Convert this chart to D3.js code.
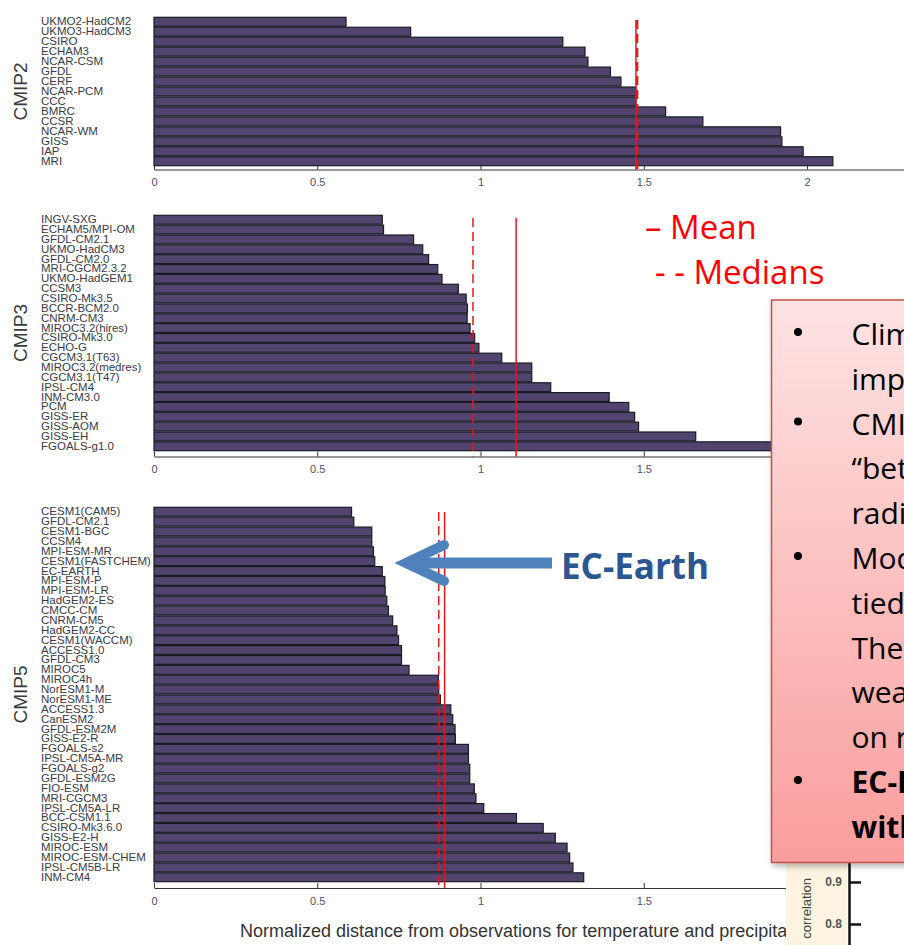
<!DOCTYPE html>
<html>
<head>
<meta charset="utf-8">
<script src="https://cdn.jsdelivr.net/npm/d3@7"></script>
<style>
    body { margin: 0; background: #fff; }
    svg { display: block; }
</style>
</head>
<body>
<div id="chart"></div>
<script>
// values (normalized distance from observations)
const cmip2Models = ["UKMO2-HadCM2", "UKMO3-HadCM3", "CSIRO", "ECHAM3", "NCAR-CSM", "GFDL", "CERF",
    "NCAR-PCM", "CCC", "BMRC", "CCSR", "NCAR-WM", "GISS", "IAP", "MRI"];
const cmip2Values = [0.588, 0.786, 1.252, 1.320, 1.329, 1.398, 1.430,
    1.476, 1.476, 1.567, 1.681, 1.919, 1.923, 1.988, 2.079];

const cmip3Models = ["INGV-SXG", "ECHAM5/MPI-OM", "GFDL-CM2.1", "UKMO-HadCM3", "GFDL-CM2.0", "MRI-CGCM2.3.2",
    "UKMO-HadGEM1", "CCSM3", "CSIRO-Mk3.5", "BCCR-BCM2.0", "CNRM-CM3", "MIROC3.2(hires)", "CSIRO-Mk3.0",
    "ECHO-G", "CGCM3.1(T63)", "MIROC3.2(medres)", "CGCM3.1(T47)", "IPSL-CM4", "INM-CM3.0", "PCM",
    "GISS-ER", "GISS-AOM", "GISS-EH", "FGOALS-g1.0"];
const cmip3Values = [0.699, 0.703, 0.795, 0.823, 0.841, 0.869, 0.882, 0.932, 0.956, 0.960, 0.959, 0.968,
    0.982, 0.995, 1.065, 1.157, 1.157, 1.215, 1.394, 1.454, 1.472, 1.484, 1.659, 1.98];

const cmip5Models = ["CESM1(CAM5)", "GFDL-CM2.1", "CESM1-BGC", "CCSM4", "MPI-ESM-MR", "CESM1(FASTCHEM)",
    "EC-EARTH", "MPI-ESM-P", "MPI-ESM-LR", "HadGEM2-ES", "CMCC-CM", "CNRM-CM5", "HadGEM2-CC",
    "CESM1(WACCM)", "ACCESS1.0", "GFDL-CM3", "MIROC5", "MIROC4h", "NorESM1-M", "NorESM1-ME", "ACCESS1.3",
    "CanESM2", "GFDL-ESM2M", "GISS-E2-R", "FGOALS-s2", "IPSL-CM5A-MR", "FGOALS-g2", "GFDL-ESM2G",
    "FIO-ESM", "MRI-CGCM3", "IPSL-CM5A-LR", "BCC-CSM1.1", "CSIRO-Mk3.6.0", "GISS-E2-H", "MIROC-ESM",
    "MIROC-ESM-CHEM", "IPSL-CM5B-LR", "INM-CM4"];
const cmip5Values = [0.605, 0.612, 0.667, 0.667, 0.672, 0.676, 0.699, 0.707, 0.708, 0.713, 0.718, 0.731,
    0.744, 0.749, 0.758, 0.758, 0.781, 0.871, 0.872, 0.877, 0.909, 0.915, 0.922, 0.923, 0.963, 0.963,
    0.967, 0.967, 0.981, 0.986, 1.010, 1.110, 1.192, 1.229, 1.265, 1.273, 1.283, 1.316];

const panelNames = ["CMIP2", "CMIP3", "CMIP5"];
const meanValues = [1.476, 1.109, 0.890];
const medianValues = [1.480, 0.977, 0.872];
const xTicks = [0, 0.5, 1, 1.5, 2];

// small correlation axis peeking in at the bottom right
const corrTicks = [0.9, 0.8];

// the note box (cut off by the right edge of the slide)
const noteLines = ["Climate models have", "improved over time", "CMIP5 models are", "“better” than before",
    "radiation and clouds", "Models are closely", "tied to each other.", "Their spread is", "weak",
    "on regional scales", "EC-Earth performs well", "within CMIP5"];
const noteBullets = [0, 2, 5, 10];
const noteBold = [10, 11];

class BarPanel {
    constructor(svg, name, models, values, mean, median, box) {
        this.svg = svg;
        this.name = name;
        this.models = models;
        this.values = values;
        this.mean = mean;
        this.median = median;
        this.box = box;
        this.initVis();
    }

    initVis() {
        let vis = this;

        vis.x = d3.scaleLinear()
            .domain([0, 2.3])
            .range([154, 905]);

        vis.y = d3.scaleBand()
            .domain(vis.models)
            .range([vis.box.top, vis.box.bottom])
            .paddingInner(0.1)
            .paddingOuter(0.03);

        vis.g = vis.svg.append("g").attr("class", "panel");

        // panel name, rotated
        vis.g.append("text")
            .attr("transform", "translate(27," + ((vis.box.top + vis.box.bottom) / 2) + ") rotate(-90)")
            .attr("text-anchor", "middle")
            .style("font-family", "'Liberation Sans', Arial, sans-serif")
            .style("font-size", "19px")
            .style("fill", "#3a3a3a")
            .text(vis.name);

        vis.updateVis();
    }

    updateVis() {
        let vis = this;

        vis.g.selectAll(".bar")
            .data(vis.models)
            .enter().append("rect")
            .attr("class", "bar")
            .attr("x", vis.x(0))
            .attr("y", d => vis.y(d))
            .attr("width", (d, i) => vis.x(vis.values[i]) - vis.x(0))
            .attr("height", vis.y.bandwidth())
            .attr("fill", "#51446f")
            .attr("stroke", "#1d1a24")
            .attr("stroke-width", 1.2);

        vis.g.selectAll(".model-label")
            .data(vis.models)
            .enter().append("text")
            .attr("class", "model-label")
            .attr("x", 41)
            .attr("y", d => vis.y(d) + vis.y.bandwidth() / 2 + 3.5)
            .style("font-family", "'Liberation Sans', Arial, sans-serif")
            .style("font-size", "11.5px")
            .style("fill", "#3a3a48")
            .text(d => d);

        // axis: ticks point up to the bars
        let axis = d3.axisBottom(vis.x)
            .tickValues(xTicks)
            .tickFormat(d => d)
            .tickSizeInner(-5)
            .tickSizeOuter(0)
            .tickPadding(9);

        let ax = vis.g.append("g")
            .attr("class", "x-axis")
            .attr("transform", "translate(0," + vis.box.axisY + ")")
            .call(axis);
        ax.select(".domain").attr("stroke", "#333");
        ax.selectAll(".tick line").attr("stroke", "#333");
        ax.selectAll("text")
            .style("font-family", "'Liberation Sans', Arial, sans-serif")
            .style("font-size", "11px")
            .style("fill", "#4b5170");

        // median (dashed) and mean (solid)
        vis.g.append("line")
            .attr("x1", vis.x(vis.median)).attr("x2", vis.x(vis.median))
            .attr("y1", vis.box.lineTop).attr("y2", vis.box.axisY)
            .attr("stroke", "#e8141b")
            .attr("stroke-width", vis.box.thick ? 2.2 : 1.5)
            .attr("stroke-dasharray", "9,5");

        vis.g.append("line")
            .attr("x1", vis.x(vis.mean)).attr("x2", vis.x(vis.mean))
            .attr("y1", vis.box.lineTop).attr("y2", vis.box.axisY)
            .attr("stroke", "#e8141b")
            .attr("stroke-width", 1.5);
    }
}

let svg = d3.select("#chart")
    .append("svg")
    .attr("width", 904)
    .attr("height", 945);

let defs = svg.append("defs");
let grad = defs.append("linearGradient")
    .attr("id", "noteFill")
    .attr("x1", 0).attr("y1", 0).attr("x2", 0).attr("y2", 1);
grad.append("stop").attr("offset", "0%").attr("stop-color", "#fee3e3");
grad.append("stop").attr("offset", "100%").attr("stop-color", "#fa9d9d");

defs.append("filter")
    .attr("id", "shadow")
    .attr("x", "-10%").attr("y", "-10%")
    .attr("width", "130%").attr("height", "130%")
    .append("feDropShadow")
    .attr("dx", 2).attr("dy", 3)
    .attr("stdDeviation", 3)
    .attr("flood-color", "#000")
    .attr("flood-opacity", 0.3);

const panelBoxes = [
    { top: 17, bottom: 166, axisY: 169.5, lineTop: 20, thick: true },
    { top: 215, bottom: 451, axisY: 456.5, lineTop: 218 },
    { top: 507, bottom: 882, axisY: 888, lineTop: 512 }
];
const panelModels = [cmip2Models, cmip3Models, cmip5Models];
const panelValues = [cmip2Values, cmip3Values, cmip5Values];

panelNames.forEach((name, i) => {
    new BarPanel(svg, name, panelModels[i], panelValues[i], meanValues[i], medianValues[i], panelBoxes[i]);
});

// x axis title (runs under the corner panel on the right)
svg.append("text")
    .attr("x", 240)
    .attr("y", 937)
    .style("font-family", "'Liberation Sans', Arial, sans-serif")
    .style("font-size", "18px")
    .style("fill", "#333")
    .text("Normalized distance from observations for temperature and precipitation");

// legend for the red lines
let legendFont = "'Open Sans', sans-serif";
svg.append("text")
    .attr("x", 645).attr("y", 239)
    .style("font-family", legendFont)
    .style("font-size", "33px")
    .style("fill", "#ff0000")
    .text("– Mean");
svg.append("text")
    .attr("x", 655).attr("y", 284)
    .style("font-family", legendFont)
    .style("font-size", "33px")
    .style("fill", "#ff0000")
    .text("- - Medians");

// arrow pointing at EC-EARTH
svg.append("line")
    .attr("x1", 552).attr("y1", 563)
    .attr("x2", 408).attr("y2", 563)
    .attr("stroke", "#4f81bd")
    .attr("stroke-width", 11);
svg.append("polyline")
    .attr("points", "444,545 406,563 444,581")
    .attr("fill", "none")
    .attr("stroke", "#4f81bd")
    .attr("stroke-width", 10)
    .attr("stroke-linecap", "round")
    .attr("stroke-linejoin", "miter")
    .attr("stroke-miterlimit", 10);
svg.append("text")
    .attr("x", 561).attr("y", 579)
    .style("font-family", legendFont)
    .style("font-weight", "bold")
    .style("font-size", "35px")
    .style("fill", "#2b5690")
    .text("EC-Earth");

// correlation axis corner
let corner = svg.append("g");
corner.append("rect")
    .attr("x", 786).attr("y", 850)
    .attr("width", 61).attr("height", 95)
    .attr("fill", "#fdf3e1");
corner.append("rect")
    .attr("x", 847).attr("y", 850)
    .attr("width", 57).attr("height", 95)
    .attr("fill", "#fff");
let corrY = d3.scaleLinear().domain([0.7, 1.0]).range([966, 840]);
let corrAxis = corner.append("g")
    .attr("transform", "translate(849,0)")
    .call(d3.axisLeft(corrY).tickValues(corrTicks).tickFormat(d3.format(".1f"))
        .tickSizeInner(-12).tickSizeOuter(0).tickPadding(7));
corrAxis.selectAll("path, line").attr("stroke", "#111").attr("stroke-width", 2.5);
corrAxis.selectAll("text")
    .style("font-family", "'Liberation Sans', Arial, sans-serif")
    .style("font-size", "12px")
    .style("font-weight", "bold")
    .style("fill", "#555");
corner.append("text")
    .attr("transform", "translate(811,878) rotate(-90)")
    .attr("text-anchor", "end")
    .style("font-family", "'Liberation Sans', Arial, sans-serif")
    .style("font-size", "13px")
    .style("fill", "#444")
    .text("correlation");

// note box
let note = svg.append("g");
note.append("rect")
    .attr("x", 771.5).attr("y", 300)
    .attr("width", 200).attr("height", 562.5)
    .attr("fill", "url(#noteFill)")
    .attr("stroke", "#c0504d")
    .attr("stroke-width", 1.5)
    .attr("filter", "url(#shadow)");
note.selectAll(".note-line")
    .data(noteLines)
    .enter().append("text")
    .attr("class", "note-line")
    .attr("x", 851.5)
    .attr("y", (d, i) => 345 + i * 44.8)
    .style("font-family", legendFont)
    .style("font-size", "30px")
    .style("font-weight", (d, i) => noteBold.includes(i) ? "bold" : "normal")
    .style("fill", "#000")
    .text(d => d);
note.selectAll(".bullet")
    .data(noteBullets)
    .enter().append("circle")
    .attr("class", "bullet")
    .attr("cx", 798)
    .attr("cy", d => 345 + d * 44.8 - 13)
    .attr("r", 4)
    .attr("fill", "#000");
</script>
</body>
</html>
